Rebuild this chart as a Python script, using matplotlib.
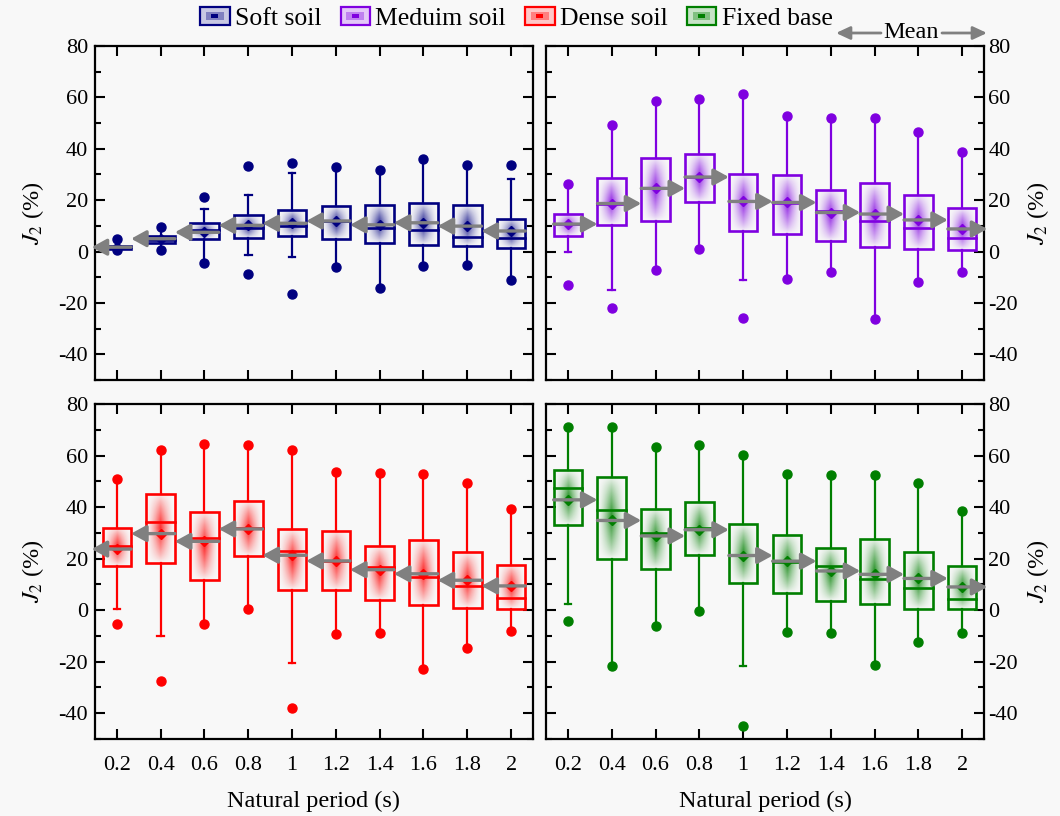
import numpy as np
import matplotlib
matplotlib.use("Agg")
import matplotlib.pyplot as plt
from matplotlib.patches import Rectangle, FancyArrowPatch
from matplotlib.legend_handler import HandlerBase
from matplotlib.colors import to_rgb
from matplotlib.ticker import MultipleLocator

plt.rcParams['font.family'] = ['Liberation Serif', 'DejaVu Serif']
plt.rcParams['mathtext.fontset'] = 'stix'
plt.rcParams['axes.unicode_minus'] = False

periods = [0.2, 0.4, 0.6, 0.8, 1.0, 1.2, 1.4, 1.6, 1.8, 2.0]
period_labels = ['0.2', '0.4', '0.6', '0.8', '1', '1.2', '1.4', '1.6', '1.8', '2']

# soft soil
soft_q1 = [1.0, 3.2, 4.8, 5.4, 6.1, 5.0, 3.5, 2.6, 2.2, 1.5]
soft_q3 = [2.2, 6.0, 11.2, 14.1, 16.1, 17.7, 18.3, 19.0, 18.1, 12.8]
soft_med = [1.6, 4.5, 8.3, 9.0, 9.9, 12.0, 9.3, 8.4, 5.8, 5.2]
soft_mean = [1.7, 5.0, 7.5, 10.2, 11.0, 11.9, 10.4, 11.2, 9.9, 8.0]
soft_whi = [5.0, 9.7, 16.4, 22.2, 30.6, 32.8, 31.9, 36.0, 33.8, 28.3]
soft_wlo = [0.5, 0.5, -4.5, -1.4, -2.1, -6.2, -14.2, -5.5, -5.2, -11.1]
soft_dhi = [5.0, 9.7, 21.3, 33.2, 34.5, 32.8, 31.9, 36.0, 33.8, 33.8]
soft_dlo = [0.5, 0.5, -4.5, -8.8, -16.5, -6.2, -14.2, -5.5, -5.2, -11.1]

# medium soil
med_q1 = [5.9, 10.5, 11.7, 19.1, 8.1, 7.0, 4.0, 1.9, 1.0, 0.6]
med_q3 = [14.8, 28.5, 36.3, 38.1, 30.3, 29.9, 23.9, 26.6, 22.1, 16.8]
med_med = [10.7, 18.7, 24.6, 29.0, 19.5, 18.8, 15.9, 11.7, 9.0, 5.2]
med_mean = [10.7, 18.7, 24.6, 29.0, 19.5, 19.1, 15.2, 14.6, 12.3, 8.8]
med_whi = [26.2, 49.3, 58.6, 59.5, 61.2, 52.6, 52.0, 52.0, 46.5, 38.6]
med_wlo = [0.0, -14.8, -7.1, 0.9, -11.2, -10.6, -8.1, -26.3, -12.0, -8.1]
med_dhi = [26.2, 49.3, 58.6, 59.5, 61.2, 52.6, 52.0, 52.0, 46.5, 38.6]
med_dlo = [-12.9, -21.9, -7.1, 0.9, -25.8, -10.6, -8.1, -26.3, -12.0, -8.1]

# dense soil
dense_q1 = [17.0, 18.1, 11.6, 21.2, 8.0, 7.7, 3.9, 1.8, 0.8, 0.5]
dense_q3 = [31.9, 44.9, 38.2, 42.2, 31.5, 30.7, 24.8, 27.4, 22.5, 17.7]
dense_med = [25.0, 34.1, 28.1, 31.9, 22.8, 19.1, 16.6, 12.8, 9.5, 4.8]
dense_mean = [23.7, 29.7, 26.7, 31.5, 21.3, 19.1, 15.7, 14.1, 11.6, 9.4]
dense_whi = [50.7, 62.2, 64.5, 64.1, 62.2, 53.8, 53.4, 52.9, 49.2, 39.2]
dense_wlo = [0.5, -10.1, -5.5, 0.5, -20.6, -9.4, -9.0, -23.0, -14.6, -8.1]
dense_dhi = [50.7, 62.2, 64.5, 64.1, 62.2, 53.8, 53.4, 52.9, 49.2, 39.2]
dense_dlo = [-5.3, -27.5, -5.5, 0.5, -38.1, -9.4, -9.0, -23.0, -14.6, -8.1]

# fixed base
fixed_q1 = [32.9, 19.7, 15.9, 21.5, 10.6, 6.5, 3.6, 2.2, 0.6, 0.6]
fixed_q3 = [54.2, 51.6, 39.4, 41.9, 33.3, 29.3, 24.3, 27.5, 22.5, 17.2]
fixed_med = [47.5, 38.7, 29.9, 32.0, 21.3, 18.7, 17.2, 12.0, 8.6, 4.5]
fixed_mean = [42.8, 34.8, 28.8, 31.2, 21.2, 19.0, 15.2, 13.9, 12.3, 9.0]
fixed_whi = [71.0, 71.0, 63.2, 64.1, 60.4, 52.9, 52.5, 52.5, 49.3, 38.6]
fixed_wlo = [2.2, -21.7, -6.2, -0.4, -21.7, -8.6, -8.8, -21.3, -12.5, -8.8]
fixed_dhi = [71.0, 71.0, 63.2, 64.1, 60.4, 52.9, 52.5, 52.5, 49.3, 38.6]
fixed_dlo = [-4.3, -21.7, -6.2, -0.4, -44.9, -8.6, -8.8, -21.3, -12.5, -8.8]

names = ['Soft soil', 'Meduim soil', 'Dense soil', 'Fixed base']
colors = ['#000080', '#7F00E0', '#FF0000', '#007F00']

BOX_W = 0.13
ARROW_GREY = '#808080'
ARROW_STYLE = '-|>,head_length=0.6,head_width=0.33'


def gradient_rgba(color, nx=40, ny=80):
    u = np.abs(np.linspace(-1, 1, nx))
    v = np.abs(np.linspace(-1, 1, ny))
    alpha = np.outer((1 - v) ** 0.8, (1 - u) ** 1.5) * 0.85
    img = np.zeros((ny, nx, 4))
    img[..., :3] = to_rgb(color)
    img[..., 3] = alpha
    return img


def draw_panel(ax, color, q1, q3, med, mean, wlo, whi, dlo, dhi, arrow_dir):
    grad = gradient_rgba(color)
    for i, x in enumerate(periods):
        left, right = x - BOX_W / 2, x + BOX_W / 2
        ax.imshow(grad, extent=[left, right, q1[i], q3[i]], aspect='auto',
                  interpolation='bilinear', zorder=2)
        ax.add_patch(Rectangle((left, q1[i]), BOX_W, q3[i] - q1[i], fill=False,
                               edgecolor=color, lw=1.9, zorder=4))
        ax.plot([left, right], [med[i], med[i]], color=color, lw=1.9, zorder=4)
        ax.plot([x, x], [q3[i], whi[i]], color=color, lw=1.6, zorder=3)
        ax.plot([x, x], [wlo[i], q1[i]], color=color, lw=1.6, zorder=3)
        for w, d in ((whi[i], dhi[i]), (wlo[i], dlo[i])):
            if abs(w - d) > 0.3:
                ax.plot([x - 0.015, x + 0.015], [w, w], color=color, lw=1.6, zorder=3)
        ax.plot([x, x], [dlo[i], dhi[i]], 'o', color=color, ms=6.5, ls='none', zorder=5)
        ax.plot(x, mean[i], 'D', color=color, ms=5, zorder=5)

    # mean arrows linking neighbouring periods
    for i, x in enumerate(periods):
        if arrow_dir == 'left':
            tail = x + BOX_W / 2
            tip = periods[i - 1] + BOX_W / 2 if i > 0 else 0.085
        else:
            tail = x - BOX_W / 2
            tip = periods[i + 1] - BOX_W / 2 if i < len(periods) - 1 else 2.115
        ax.annotate('', xy=(tip, mean[i]), xytext=(tail, mean[i]),
                    arrowprops=dict(arrowstyle=ARROW_STYLE, color=ARROW_GREY, lw=2.4,
                                    shrinkA=0, shrinkB=0, mutation_scale=15),
                    annotation_clip=False, zorder=6)


def style_axes(ax, side, show_x):
    ax.set_xlim(0.1, 2.1)
    ax.set_ylim(-50, 80)
    ax.set_xticks(periods)
    ax.yaxis.set_major_locator(MultipleLocator(20))
    ax.yaxis.set_minor_locator(MultipleLocator(10))
    ax.set_yticks([-40, -20, 0, 20, 40, 60, 80])
    ax.tick_params(which='both', direction='in', top=True, bottom=True,
                   left=True, right=True, width=1.5, labelsize=16)
    ax.tick_params(which='major', length=7)
    ax.tick_params(which='minor', length=4)
    ax.tick_params(axis='x', pad=12)
    for s in ax.spines.values():
        s.set_linewidth(1.6)
    if show_x:
        ax.set_xticklabels(period_labels)
        ax.set_xlabel('Natural period (s)', fontsize=17.5, labelpad=12)
    else:
        ax.set_xticklabels([])
    if side == 'right':
        ax.tick_params(axis='y', labelleft=False, labelright=True, pad=3)
        ax.yaxis.set_label_position('right')
        ax.set_ylabel(r'$J_2$ (%)', fontsize=17.5, labelpad=5)
    else:
        ax.tick_params(axis='y', pad=5)
        ax.set_ylabel(r'$J_2$ (%)', fontsize=17.5, labelpad=9)


class GradientBoxHandler(HandlerBase):
    def create_artists(self, legend, orig_handle, xdescent, ydescent,
                       width, height, fontsize, trans):
        c = np.array(to_rgb(orig_handle.get_edgecolor()))
        light = 1 - (1 - c) * 0.22
        mid = 1 - (1 - c) * 0.5
        x0, y0 = -xdescent, -ydescent
        outer = Rectangle((x0, y0), width, height, facecolor=light,
                          edgecolor=c, lw=1.6, transform=trans)
        middle = Rectangle((x0 + width * 0.2, y0 + height * 0.25), width * 0.6,
                           height * 0.5, facecolor=mid, edgecolor='none', transform=trans)
        inner = Rectangle((x0 + width * 0.38, y0 + height * 0.4), width * 0.24,
                          height * 0.2, facecolor=c, edgecolor='none', transform=trans)
        return [outer, middle, inner]


fig = plt.figure(figsize=(10.6, 8.16), dpi=100, facecolor='#f8f8f8')
ax_soft = fig.add_axes([0.0896, 0.5343, 0.4132, 0.4093])
ax_med = fig.add_axes([0.5151, 0.5343, 0.4132, 0.4093])
ax_dense = fig.add_axes([0.0896, 0.0944, 0.4132, 0.4105])
ax_fixed = fig.add_axes([0.5151, 0.0944, 0.4132, 0.4105])

for a in (ax_soft, ax_med, ax_dense, ax_fixed):
    a.set_facecolor('#f8f8f8')

draw_panel(ax_soft, colors[0], soft_q1, soft_q3, soft_med, soft_mean,
           soft_wlo, soft_whi, soft_dlo, soft_dhi, 'left')
draw_panel(ax_med, colors[1], med_q1, med_q3, med_med, med_mean,
           med_wlo, med_whi, med_dlo, med_dhi, 'right')
draw_panel(ax_dense, colors[2], dense_q1, dense_q3, dense_med, dense_mean,
           dense_wlo, dense_whi, dense_dlo, dense_dhi, 'left')
draw_panel(ax_fixed, colors[3], fixed_q1, fixed_q3, fixed_med, fixed_mean,
           fixed_wlo, fixed_whi, fixed_dlo, fixed_dhi, 'right')

style_axes(ax_soft, 'left', False)
style_axes(ax_med, 'right', False)
style_axes(ax_dense, 'left', True)
style_axes(ax_fixed, 'right', True)

handles = [Rectangle((0, 0), 1, 1, edgecolor=c, facecolor='none') for c in colors]
fig.legend(handles, names, loc='center', bbox_to_anchor=(0.487, 0.977), ncol=4,
           frameon=False, fontsize=18.5, handlelength=1.15, handleheight=0.65,
           handletextpad=0.2, columnspacing=0.75,
           handler_map={Rectangle: GradientBoxHandler()})

# "Mean" key with arrows on both sides
fig.text(911 / 1060, 1 - 32 / 816, 'Mean', fontsize=17.5, ha='center', va='center')
for tail, tip in ((881, 836), (942, 987)):
    fig.add_artist(FancyArrowPatch(
        (tail / 1060, 1 - 33 / 816), (tip / 1060, 1 - 33 / 816),
        transform=fig.transFigure, arrowstyle='-|>,head_length=0.6,head_width=0.28',
        mutation_scale=14, color=ARROW_GREY, lw=2.0, shrinkA=0, shrinkB=0))

fig.savefig('out.png', dpi=100, facecolor=fig.get_facecolor())
